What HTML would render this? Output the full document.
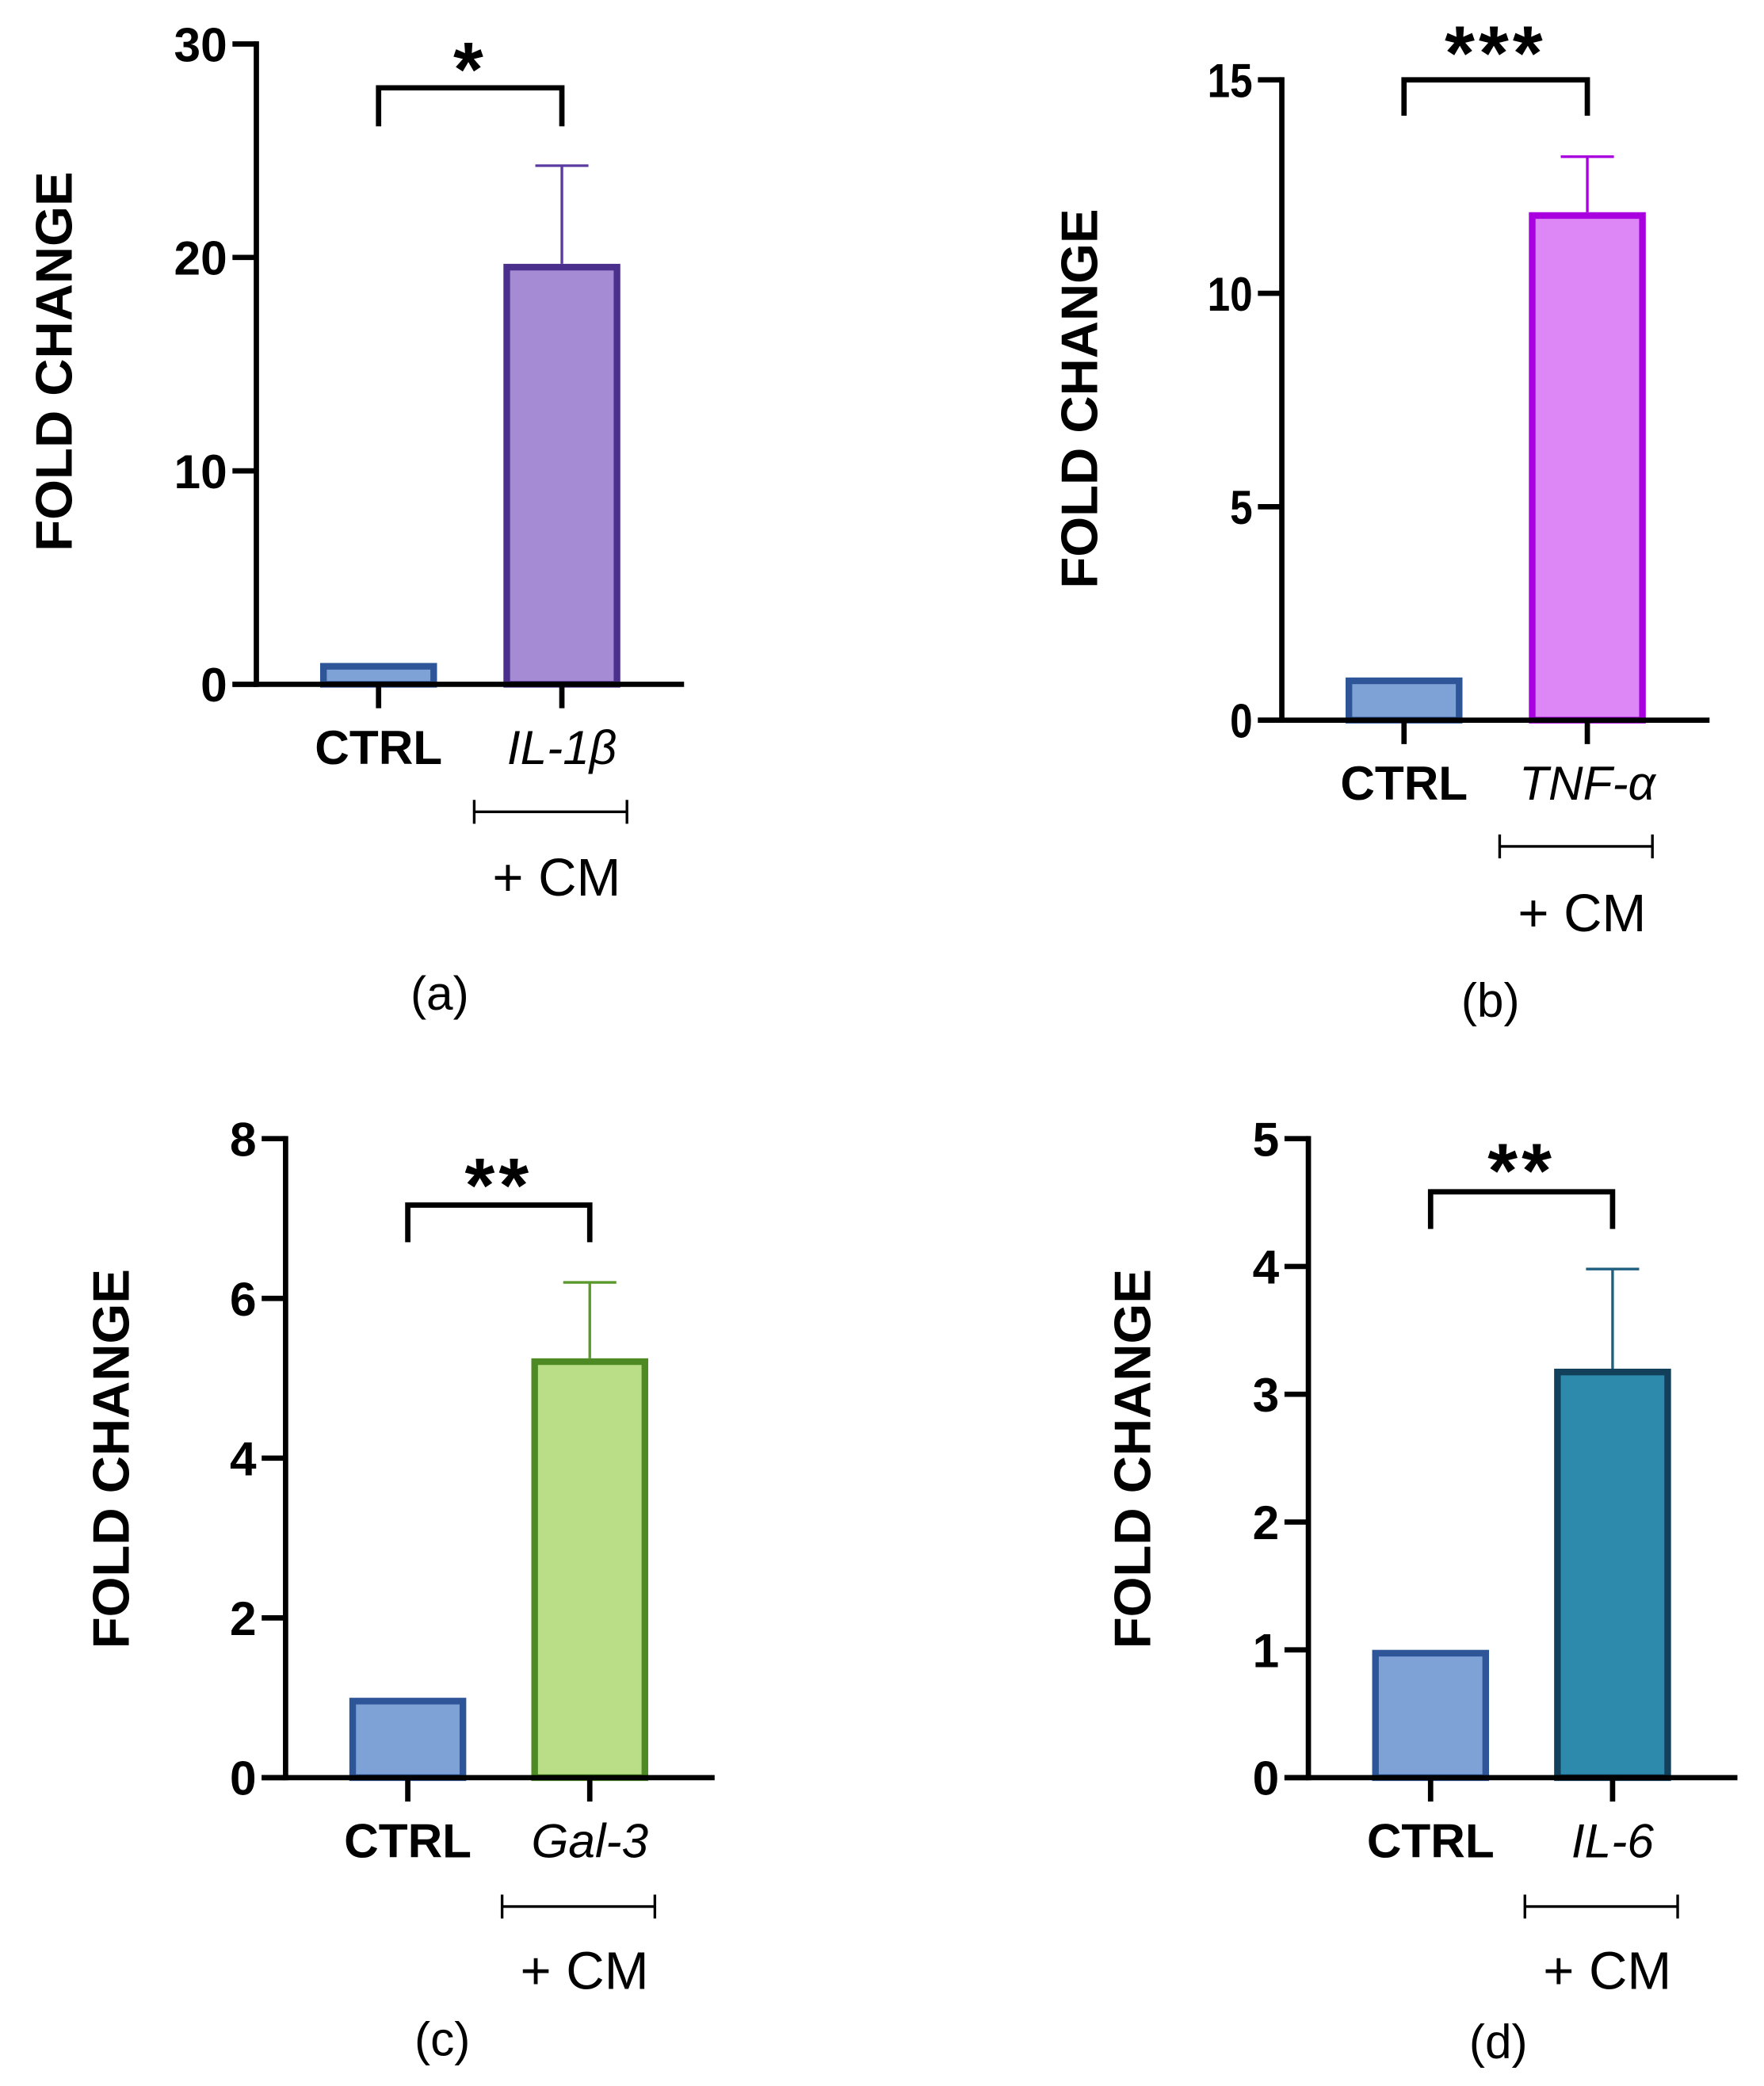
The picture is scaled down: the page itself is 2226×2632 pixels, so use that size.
<!DOCTYPE html>
<html><head><meta charset="utf-8">
<style>
html,body{margin:0;padding:0;background:#fff;}
svg{display:block;}
text{font-family:"Liberation Sans",Arial,sans-serif;}
</style></head>
<body>
<svg id="fig" width="2226" height="2632" viewBox="0 0 1328 1570" xmlns="http://www.w3.org/2000/svg"></svg>
<script>
// ---- data ----
const panelIds = ['a','b','c','d'];
const categories = ['CTRL','IL-1β','TNF-α','Gal-3','IL-6'];
const aValues = [1, 19.7];
const aErrors = [0, 4.6];
const aTicks = [0,10,20,30];
const bValues = [1, 11.9];
const bErrors = [0, 1.3];
const bTicks = [0,5,10,15];
const cValues = [1, 5.25];
const cErrors = [0, 0.95];
const cTicks = [0,2,4,6,8];
const dValues = [1, 3.2];
const dErrors = [0, 0.78];
const dTicks = [0,1,2,3,4,5];
const significance = ['*','***','**','**'];

// ---- layout ----
const layouts = [
 {ax:193, top:33, zero:515, xend:515, c0:285, c1:423, br:66, brLeg:95, star:50, lab:562, cmY:611, cmT:660, cap:'(a)', capX:331, capY:760, ylX:40, ylY:272, vals:aValues, errs:aErrors, ticks:aTicks, cat:categories[1], fill:'#a58bd3', stroke:'#4b2f8c', err:'#5a3aa0', cond:false},
 {ax:965, top:60, zero:542, xend:1287, c0:1057, c1:1195, br:60, brLeg:87, star:38, lab:589, cmY:637, cmT:687, cap:'(b)', capX:1122, capY:765, ylX:812, ylY:300, vals:bValues, errs:bErrors, ticks:bTicks, cat:categories[2], fill:'#dc87f5', stroke:'#a800de', err:'#a800de', cond:true},
 {ax:215, top:857, zero:1338, xend:538, c0:307, c1:444, br:907, brLeg:935, star:890, lab:1385, cmY:1435, cmT:1483, cap:'(c)', capX:333, capY:1547, ylX:83, ylY:1098, vals:cValues, errs:cErrors, ticks:cTicks, cat:categories[3], fill:'#b9de87', stroke:'#4e8a24', err:'#5a9a2c', cond:false},
 {ax:985, top:857, zero:1338, xend:1308, c0:1077, c1:1214, br:897, brLeg:925, star:879, lab:1385, cmY:1435, cmT:1483, cap:'(d)', capX:1128, capY:1549, ylX:852, ylY:1098, vals:dValues, errs:dErrors, ticks:dTicks, cat:categories[4], fill:'#2e8aad', stroke:'#123f5a', err:'#1f5f80', cond:false}
];
const NS='http://www.w3.org/2000/svg';
const svg=document.getElementById('fig');
function mk(tag, attrs, parent){
  const e=document.createElementNS(NS,tag);
  for(const k in attrs) e.setAttribute(k, attrs[k]);
  parent.appendChild(e); return e;
}
layouts.forEach((L,i)=>{
  const g=mk('g',{},svg);
  
  
  const maxT=L.ticks[L.ticks.length-1];
  const y=v=>L.zero-(v/maxT)*(L.zero-L.top);
  const bw=88;
  const cx=[L.c0,L.c1];
  L.vals.forEach((v,j)=>{
    const fill=j===0?'#7ea1d6':L.fill, st=j===0?'#2e5597':L.stroke;
    const r=mk('rect',{x:cx[j]-bw/2+2.5,y:y(v)+2.5,width:bw-5,height:Math.max(0,L.zero-y(v)-2.5),fill:fill,stroke:st,'stroke-width':5},g);
    
    
    if(L.errs[j]>0){
      const eg=mk('g',{stroke:L.err,'stroke-width':2},g);
      
      
      mk('line',{x1:cx[j],x2:cx[j],y1:y(v),y2:y(v+L.errs[j])},eg);
      mk('line',{x1:cx[j]-20,x2:cx[j]+20,y1:y(v+L.errs[j]),y2:y(v+L.errs[j])},eg);
    }
  });
  const ag=mk('g',{stroke:'#000','stroke-width':4,fill:'none'},g);
  
  
  mk('line',{x1:L.ax,x2:L.ax,y1:L.top-2,y2:L.zero+2},ag);
  mk('line',{x1:L.ax-18,x2:L.xend,y1:L.zero,y2:L.zero},ag);
  L.ticks.forEach(t=>{
    mk('line',{x1:L.ax-18,x2:L.ax,y1:y(t),y2:y(t)},ag);
    const tx=mk('text',{x:L.ax-22,y:y(t)+13,'text-anchor':'end','font-size':36,'font-weight':'bold',fill:'#000'},g);
    if(L.cond) tx.setAttribute('transform',`translate(${L.ax-22},0) scale(0.85,1) translate(${-(L.ax-22)},0)`);
    tx.textContent=t;
    
    
  });
  [L.c0,L.c1].forEach(c=>mk('line',{x1:c,x2:c,y1:L.zero,y2:L.zero+18},ag));
  const yl=mk('text',{x:0,y:0,transform:`translate(${L.ylX+14},${L.ylY}) rotate(-90)`,'text-anchor':'middle','font-size':39,'font-weight':'bold',fill:'#000'},g);
  yl.textContent='FOLD CHANGE';
  
  
  const t0=mk('text',{x:L.c0,y:L.lab+13,'text-anchor':'middle','font-size':36,'font-weight':'bold',fill:'#000'},g);
  t0.textContent=categories[0];
  
  
  const t1=mk('text',{x:L.c1,y:L.lab+13,'text-anchor':'middle','font-size':36,'font-style':'italic',fill:'#000'},g);
  t1.textContent=L.cat;
  
  
  const bg=mk('path',{d:`M${L.c0},${L.brLeg} V${L.br} H${L.c1} V${L.brLeg}`,stroke:'#000','stroke-width':4,fill:'none'},g);
  
  
  const st=mk('text',{x:(L.c0+L.c1)/2,y:L.star+22,'text-anchor':'middle','font-size':58,'font-weight':'bold','letter-spacing':3,fill:'#000'},g);
  st.textContent=significance[i];
  
  
  const cm=mk('path',{d:`M${L.c1-66},${L.cmY-9} V${L.cmY+9} M${L.c1-66},${L.cmY} H${L.c1+49} M${L.c1+49},${L.cmY-9} V${L.cmY+9}`,stroke:'#000','stroke-width':2,fill:'none'},g);
  
  
  const cmt=mk('text',{x:L.c1-4,y:L.cmT+14,'text-anchor':'middle','font-size':40,fill:'#000'},g);
  cmt.textContent='+ CM';
  
  
  const cp=mk('text',{x:L.capX,y:L.capY,'text-anchor':'middle','font-size':36,fill:'#000'},g);
  cp.textContent=L.cap;
  
  
});
</script>
</body></html>
